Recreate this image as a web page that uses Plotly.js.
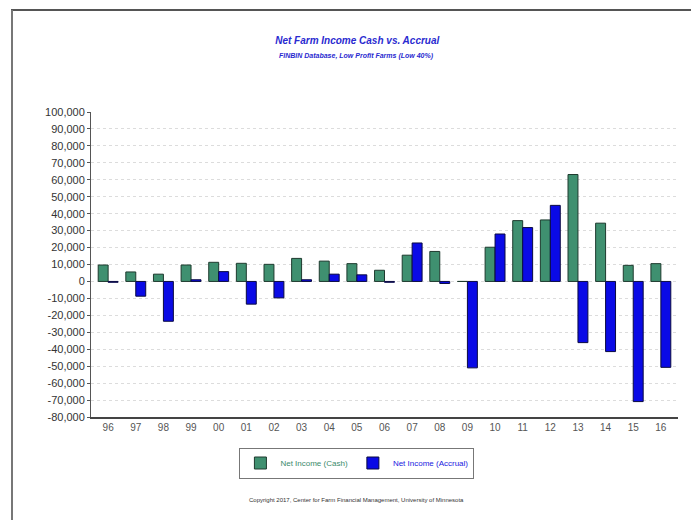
<!DOCTYPE html>
<html>
<head>
<meta charset="utf-8">
<script src="https://cdn.plot.ly/plotly-3.0.1.min.js"></script>
<style>
html,body{margin:0;padding:0;background:#fff;}
#chart{width:691px;height:521px;}
</style>
</head>
<body>
<div id="chart"></div>
<script>
const years = ["96","97","98","99","00","01","02","03","04","05","06","07","08","09","10","11","12","13","14","15","16"];
const cashIncome = [9700,5600,4300,9700,11300,10700,10100,13600,12000,10500,6600,15500,17700,0,20200,35900,36300,63100,34400,9500,10500];
const accrualIncome = [-500,-8700,-23500,1000,5800,-13400,-9700,1000,4300,3900,-500,22700,-1200,-51000,28000,31800,44900,-36100,-41400,-70900,-50700];
const yTickVals = [100000,90000,80000,70000,60000,50000,40000,30000,20000,10000,0,-10000,-20000,-30000,-40000,-50000,-60000,-70000,-80000];
const yTickText = ["100,000","90,000","80,000","70,000","60,000","50,000","40,000","30,000","20,000","10,000","0","-10,000","-20,000","-30,000","-40,000","-50,000","-60,000","-70,000","-80,000"];

const traces = [
  {
    type: 'bar', x: years, y: cashIncome,
    name: '<span style="color:#3a8a6a">Net Income (Cash)</span>',
    marker: {color: '#3f9070', line: {color: '#1e3a2e', width: 1}}
  },
  {
    type: 'bar', x: years, y: accrualIncome,
    name: '<span style="color:#2020e0">Net Income (Accrual)</span>',
    marker: {color: '#0a0ae6', line: {color: '#0a0a40', width: 1}}
  }
];

const layout = {
  width: 691, height: 521,
  paper_bgcolor: '#ffffff', plot_bgcolor: '#ffffff',
  margin: {l: 91, r: 13, t: 112, b: 104},
  barmode: 'group', bargap: 0.28, bargroupgap: 0,
  font: {family: 'Liberation Sans, Arial, sans-serif', color: '#333'},
  title: {
    text: '<b><i>Net Farm Income Cash vs. Accrual</i></b>',
    font: {size: 10, color: '#2a2ad0', family: 'Liberation Sans, Arial, sans-serif'},
    x: 0.517, xanchor: 'center', y: 1 - 40/521, yanchor: 'middle'
  },
  xaxis: {
    type: 'category', range: [-0.62, 20.62],
    showgrid: false, zeroline: false,
    showline: true, linecolor: '#444', linewidth: 2,
    ticks: '', tickfont: {size: 10, color: '#555'}
  },
  yaxis: {
    range: [-80000, 100000],
    tickvals: yTickVals, ticktext: yTickText,
    showgrid: true, gridcolor: '#dcdcdc', griddash: 'dot', gridwidth: 1,
    zeroline: false,
    showline: true, linecolor: '#555', linewidth: 1,
    ticks: 'outside', ticklen: 3, tickcolor: '#555',
    tickfont: {size: 11, color: '#333'}
  },
  legend: {
    orientation: 'h', x: 0.453, xanchor: 'center', y: -0.1, yanchor: 'top',
    bordercolor: '#777', borderwidth: 1, bgcolor: '#fff',
    font: {size: 8}, traceorder: 'normal', itemwidth: 30, tracegroupgap: 0
  },
  showlegend: true,
  annotations: [
    {
      text: '<b><i>FINBIN Database, Low Profit Farms (Low 40%)</i></b>',
      xref: 'paper', yref: 'paper', x: 0.453, y: (418 - 57) / 305, xanchor: 'center', yanchor: 'middle',
      showarrow: false, font: {size: 7, color: '#2a2ad0'}
    },
    {
      text: 'Copyright 2017, Center for Farm Financial Management, University of Minnesota',
      xref: 'paper', yref: 'paper', x: 0.453, y: (418 - 501) / 305, xanchor: 'center', yanchor: 'middle',
      showarrow: false, font: {size: 6, color: '#333'}
    }
  ],
  shapes: [
    {type: 'line', xref: 'paper', yref: 'paper', x0: (11 - 91) / 587, x1: (691 - 91) / 587, y0: (418 - 11) / 305, y1: (418 - 11) / 305, line: {color: '#555', width: 2}},
    {type: 'line', xref: 'paper', yref: 'paper', x0: (12 - 91) / 587, x1: (12 - 91) / 587, y0: (418 - 11) / 305, y1: (418 - 521) / 305, line: {color: '#777', width: 2}}
  ]
};

Plotly.newPlot('chart', traces, layout, {displayModeBar: false, staticPlot: true});
</script>
</body>
</html>
